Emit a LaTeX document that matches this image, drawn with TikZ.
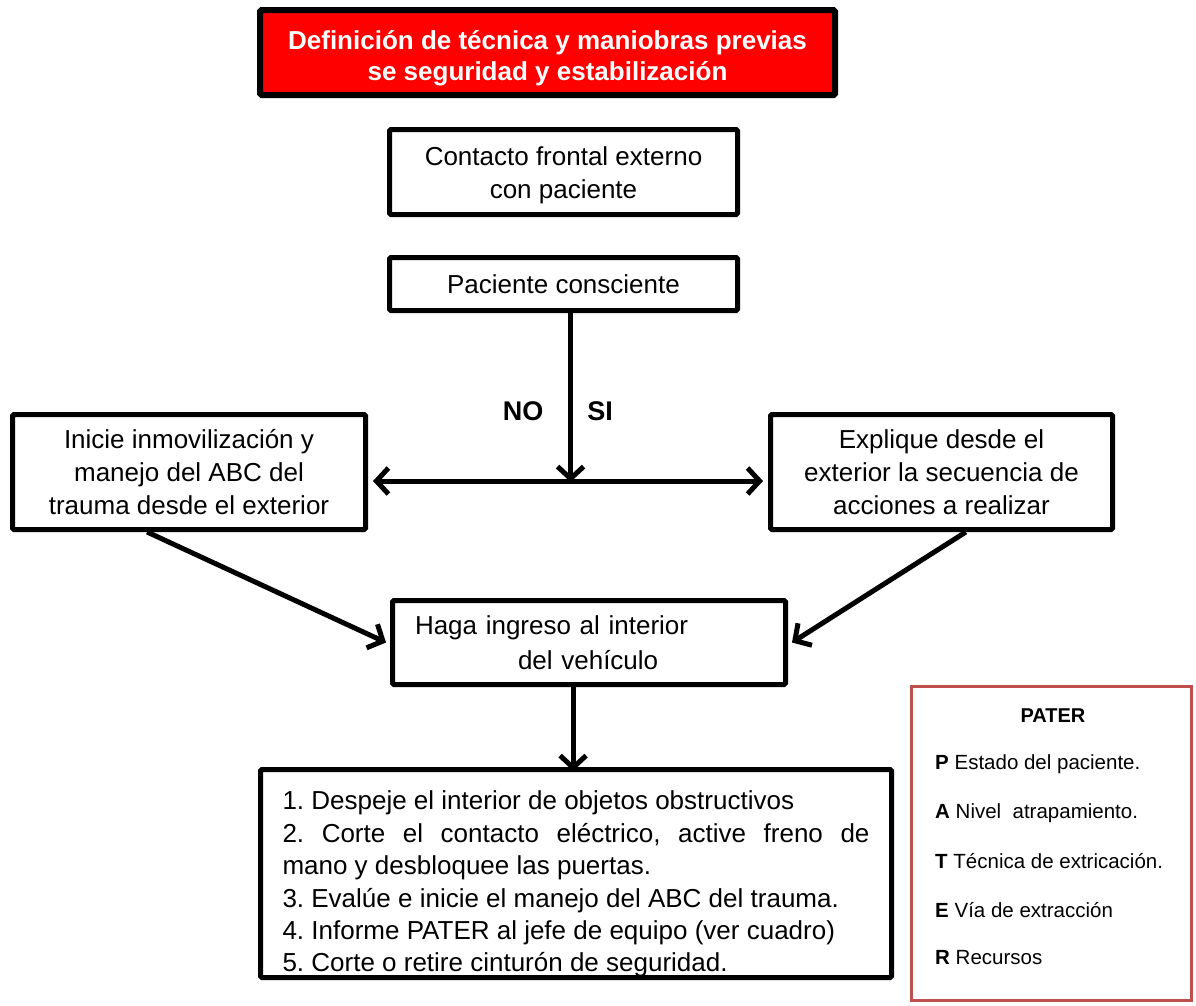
\documentclass[tikz,border=0pt]{standalone}
\usepackage{fontspec}
\setmainfont{Liberation Sans}
\usetikzlibrary{arrows.meta,calc}
\definecolor{paterred}{HTML}{C0504D}
\begin{document}
\begin{tikzpicture}[x=1pt,y=-1pt,
  box/.style={draw=black,line width=5pt,rounded corners=1.5pt,inner sep=0pt,align=center,font=\fontsize{26}{33}\selectfont},
  arr/.style={line width=5pt,-{Straight Barb[length=12pt,width=26pt]}},
  darr/.style={line width=5pt,{Straight Barb[length=12pt,width=26pt]}-{Straight Barb[length=12pt,width=26pt]}},
  lbl/.style={font=\bfseries\fontsize{27}{30}\selectfont,inner sep=0pt},
  ptxt/.style={font=\fontsize{20.5}{24}\selectfont,inner sep=0pt,anchor=west}]
\useasboundingbox (0,0) rectangle (1196,1005);
% boxes
\node[box,fill=red,line width=6pt,text=white,font=\bfseries\fontsize{26}{31}\selectfont,minimum width=575pt,minimum height=85pt] (top) at (547.5,52.5) {\rule{0pt}{30pt}Definición de técnica y maniobras previas\\se seguridad y estabilización};
\node[box,minimum width=348pt,minimum height=85pt] (contact) at (563.5,172) {\rule{0pt}{26pt}Contacto frontal externo\\con paciente};
\node[box,minimum width=348pt,minimum height=53pt] (pc) at (563.5,284) {Paciente consciente};
\node[box,minimum width=353pt,minimum height=115pt] (lb) at (189,472) {Inicie inmovilización y\\manejo del ABC del\\trauma desde el exterior};
\node[box,minimum width=342pt,minimum height=115pt] (rb) at (941.5,472) {Explique desde el\\exterior la secuencia de\\acciones a realizar};
\node[box,minimum width=393pt,minimum height=84pt,text width=348pt,align=left,font=\fontsize{26}{35}\selectfont] (haga) at (589,642.5) {Haga ingreso al interior\\\hspace*{103pt}del vehículo};
\node[box,minimum width=631pt,minimum height=208pt,text width=587pt,align=justify,font=\fontsize{26}{32.4}\selectfont] (bot) at (576,873.5) {\frenchspacing\hyphenpenalty=10000\relax
\rule{0pt}{40pt}1. Despeje el interior de objetos obstructivos\par
2. Corte el contacto eléctrico, active freno de\linebreak mano y desbloquee las puertas.\par
3. Evalúe e inicie el manejo del ABC del trauma.\par
4. Informe PATER al jefe de equipo (ver cuadro)\par
5. Corte o retire cinturón de seguridad.\par};
\node[draw=paterred,line width=3.5pt,minimum width=280pt,minimum height=314pt,inner sep=0pt] (pater) at (1051.5,843.5) {};
% PATER texts
\node[font=\bfseries\fontsize{20}{24}\selectfont,inner sep=0pt] (ptitle) at (1053,716) {PATER};
\node[ptxt] (pp) at (935,764) {\textbf{P} Estado del paciente.};
\node[ptxt] (pa) at (935,813) {\textbf{A} Nivel\ \ atrapamiento.};
\node[ptxt] (pt) at (935,861) {\textbf{T} Técnica de extricación.};
\node[ptxt] (pe) at (935,910) {\textbf{E} Vía de extracción};
\node[ptxt] (pr) at (935,958) {\textbf{R} Recursos};
% labels
\node[lbl] (no) at (523,411) {NO};
\node[lbl] (si) at (600,411) {SI};
% connectors
\coordinate (pcs) at ($(pc.south west)!0.52!(pc.south east)$);
\coordinate (j) at (pcs |- 0,481);
\draw[arr] (pcs) -- ([yshift=-1pt]j);
\draw[darr] ([xshift=5pt]j -| lb.east) -- ([xshift=-5pt]j -| rb.west);
\coordinate (lbs) at ($(lb.south west)!0.383!(lb.south east)$);
\coordinate (rbs) at ($(rb.south west)!0.57!(rb.south east)$);
\draw[arr] (lbs) -- ([xshift=-4pt]haga.west);
\draw[arr] (rbs) -- ([xshift=4pt]haga.east);
\coordinate (hs) at ($(haga.south west)!0.46!(haga.south east)$);
\draw[arr] (hs) -- ([yshift=-4pt]hs |- bot.north);
\end{tikzpicture}
\end{document}
